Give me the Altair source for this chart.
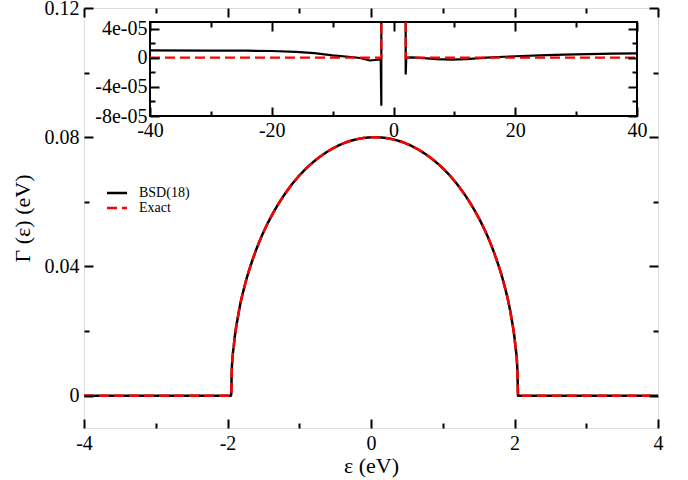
import altair as alt
import pandas as pd

FONT = "Liberation Serif"
W, H = 574, 420

# ---------------- main panel data ----------------
main_eps = [-4.0, -1.95, -1.94, -1.91, -1.85, -1.75, -1.65, -1.55, -1.45, -1.35,
            -1.15, -0.95, -0.75, -0.55, -0.35, -0.15, 0.05, 0.25, 0.45, 0.65,
            0.85, 1.05, 1.25, 1.45, 1.55, 1.65, 1.75, 1.85, 1.95, 2.01, 2.04, 2.05, 4.0]
bsd_main_gamma = [0.0, 0.0, 0.0080, 0.0159, 0.0250, 0.0349, 0.0421, 0.0480, 0.0529, 0.0571,
                  0.0640, 0.0693, 0.0733, 0.0763, 0.0784, 0.0796, 0.0800, 0.0796, 0.0784, 0.0763,
                  0.0733, 0.0693, 0.0640, 0.0571, 0.0529, 0.0480, 0.0421, 0.0349, 0.0250, 0.0159,
                  0.0080, 0.0, 0.0]
exact_main_gamma = [0.0, 0.0, 0.0080, 0.0159, 0.0250, 0.0349, 0.0421, 0.0480, 0.0529, 0.0571,
                    0.0640, 0.0693, 0.0733, 0.0763, 0.0784, 0.0796, 0.0800, 0.0796, 0.0784, 0.0763,
                    0.0733, 0.0693, 0.0640, 0.0571, 0.0529, 0.0480, 0.0421, 0.0349, 0.0250, 0.0159,
                    0.0080, 0.0, 0.0]

# ---------------- inset data ----------------
bsd_inset_left_eps = [-40, -30, -24, -20, -16, -13, -10, -7, -5.5, -3.9, -2.1, -2.0, -2.0]
bsd_inset_left_gamma = [1.0e-05, 0.98e-05, 0.96e-05, 0.92e-05, 0.80e-05, 0.62e-05, 0.33e-05,
                        0.10e-05, -0.04e-05, -0.38e-05, -0.25e-05, -6.6e-05, 0.08]
bsd_inset_right_eps = [2.0, 2.0, 2.1, 3, 5, 7, 9.6, 12, 15.3, 20, 24, 28, 32, 36, 40]
bsd_inset_right_gamma = [0.08, -2.3e-05, 0.02e-05, 0.05e-05, -0.05e-05, -0.20e-05, -0.27e-05,
                         -0.20e-05, 0.0, 0.20e-05, 0.33e-05, 0.42e-05, 0.50e-05, 0.56e-05, 0.60e-05]
exact_inset_left_eps = [-40, -2.0, -2.0]
exact_inset_left_gamma = [0.0, 0.0, 0.08]
exact_inset_right_eps = [2.0, 2.0, 40]
exact_inset_right_gamma = [0.08, 0.0, 0.0]

# ---------------- axes / ticks ----------------
series_names = ["BSD(18)", "Exact"]
main_x_domain = [-4, 4]
main_y_domain = [-0.01, 0.12]
main_x_major = [-4, -2, 0, 2, 4]
main_x_minor = [-3, -1, 1, 3]
main_y_major = [0, 0.04, 0.08, 0.12]
main_y_minor = [0.02, 0.06, 0.10]

inset_x_domain = [-40, 40]
inset_y_domain = [-8e-05, 4.9e-05]
inset_x_major = [-40, -20, 0, 20, 40]
inset_x_minor = [-30, -10, 10, 30]
inset_y_major = [-8e-05, -4e-05, 0, 4e-05]
inset_y_minor = [-6e-05, -2e-05, 2e-05]

# inset placement inside the plot area (pixels)
INS_L, INS_R, INS_T, INS_B = 66, 553, 14, 108

# ---------------- data frames ----------------
n = len(main_eps)
main_df = pd.DataFrame({
    "eps": main_eps * 2,
    "gamma": bsd_main_gamma + exact_main_gamma,
    "series": [series_names[0]] * n + [series_names[1]] * n,
})

rows = []
def add(series, seg, xs, ys):
    for i, (a, b) in enumerate(zip(xs, ys)):
        rows.append({"eps": a, "gamma": b, "series": series, "seg": seg, "idx": i})
add("BSD(18)", "L", bsd_inset_left_eps, bsd_inset_left_gamma)
add("BSD(18)", "R", bsd_inset_right_eps, bsd_inset_right_gamma)
add("Exact", "L", exact_inset_left_eps, exact_inset_left_gamma)
add("Exact", "R", exact_inset_right_eps, exact_inset_right_gamma)
inset_df = pd.DataFrame(rows)

rect_df = pd.DataFrame({"x0": [inset_x_domain[0]], "x1": [inset_x_domain[1]],
                        "y0": [inset_y_domain[0]], "y1": [inset_y_domain[1]]})

# ---------------- scales ----------------
x_main = alt.Scale(domain=main_x_domain, nice=False, zero=False)
y_main = alt.Scale(domain=main_y_domain, nice=False, zero=False)
x_ins = alt.Scale(domain=inset_x_domain, range=[INS_L, INS_R], nice=False, zero=False, clamp=True)
y_ins = alt.Scale(domain=inset_y_domain, range=[INS_B, INS_T], nice=False, zero=False, clamp=True)

color_scale = alt.Scale(domain=series_names, range=["black", "red"])
dash_scale = alt.Scale(domain=series_names, range=[[1, 0], [10, 5]])
leg = alt.Legend(orient="none", legendX=26, legendY=178, title=None,
                 symbolType="M-2,0H2", symbolSize=100, symbolStrokeWidth=2.5,
                 labelFont=FONT, labelFontSize=14, labelColor="black",
                 labelOffset=15, rowPadding=1, padding=0)

EXPR_INT = "(datum.value < 0 ? '-' : '') + format(abs(datum.value), 'd')"
EXPR_MAIN_Y = "datum.value == 0 ? '0' : format(datum.value, '.2f')"
EXPR_INS_Y = ("datum.value == 0 ? '0' : (datum.value < 0 ? '-' : '') + "
              "replace(format(abs(datum.value), '.0e'), 'e-', 'e-0')")


def tick_axis(orient, offset, values, size):
    return alt.Axis(orient=orient, offset=offset, values=values, tickSize=size,
                    tickWidth=2, tickColor="black", labels=False, domain=False,
                    grid=False, title=None, zindex=1)


def label_axis(orient, offset, values, expr, pad, **kw):
    return alt.Axis(orient=orient, offset=offset, values=values, ticks=False,
                    domain=False, grid=False, labelExpr=expr, labelFont=FONT,
                    labelFontSize=20, labelColor="black", labelPadding=pad,
                    labelFlush=False, labelOverlap=False, zindex=1, **kw)


TITLE_KW = dict(titleFont=FONT, titleFontSize=22, titleFontWeight="normal",
                titleColor="black", titleAlign="center", titleBaseline="middle")

# ---------------- main panel ----------------
m_bsd = alt.Chart(main_df).transform_filter(alt.datum.series == "BSD(18)").mark_line(
    strokeWidth=2.5, interpolate="monotone").encode(
    x=alt.X("eps:Q", scale=x_main,
            axis=label_axis("bottom", 0, main_x_major, EXPR_INT, 5,
                            title="ε (eV)", titleX=287, titleY=37, **TITLE_KW)),
    y=alt.Y("gamma:Q", scale=y_main,
            axis=label_axis("left", 0, main_y_major, EXPR_MAIN_Y, 5,
                            title="Γ (ε) (eV)", titleX=-62, titleY=210,
                            titleAngle=270, **TITLE_KW)),
    color=alt.Color("series:N", scale=color_scale, legend=leg),
    strokeDash=alt.StrokeDash("series:N", scale=dash_scale, legend=leg),
)
m_exact = alt.Chart(main_df).transform_filter(alt.datum.series == "Exact").mark_line(
    strokeWidth=2.5, interpolate="monotone").encode(
    x=alt.X("eps:Q", scale=x_main, axis=tick_axis("top", -H, main_x_major, 9)),
    y=alt.Y("gamma:Q", scale=y_main, axis=tick_axis("right", -W, main_y_major, 9)),
    color=alt.Color("series:N", scale=color_scale, legend=leg),
    strokeDash=alt.StrokeDash("series:N", scale=dash_scale, legend=leg),
)


def ghost(df, xs, ys, xa, ya):
    return alt.Chart(df).mark_point(opacity=0).encode(
        x=alt.X("eps:Q", scale=xs, axis=xa), y=alt.Y("gamma:Q", scale=ys, axis=ya))


m_t2 = ghost(main_df, x_main, y_main, tick_axis("top", -H, main_x_minor, 5),
             tick_axis("right", -W, main_y_minor, 5))
m_t3 = ghost(main_df, x_main, y_main, tick_axis("bottom", -H, main_x_major, 9),
             tick_axis("left", -W, main_y_major, 9))
m_t4 = ghost(main_df, x_main, y_main, tick_axis("bottom", -H, main_x_minor, 5),
             tick_axis("left", -W, main_y_minor, 5))

main = alt.layer(m_bsd, m_exact, m_t2, m_t3, m_t4).resolve_axis(x="independent", y="independent")

# ---------------- inset ----------------
i_rect = alt.Chart(rect_df).mark_rect(fill="white", stroke="black", strokeWidth=2).encode(
    x=alt.X("x0:Q", scale=x_ins,
            axis=label_axis("bottom", INS_B - H, inset_x_major, EXPR_INT, 4, title=None)),
    x2="x1:Q",
    y=alt.Y("y0:Q", scale=y_ins,
            axis=label_axis("left", -INS_L, inset_y_major, EXPR_INS_Y, 3, title=None)),
    y2="y1:Q",
)
i_bsd = alt.Chart(inset_df).transform_filter(alt.datum.series == "BSD(18)").mark_line(
    color="black", strokeWidth=2.2).encode(
    x=alt.X("eps:Q", scale=x_ins, axis=tick_axis("top", -INS_B, inset_x_major, 9)),
    y=alt.Y("gamma:Q", scale=y_ins, axis=tick_axis("right", INS_L - W, inset_y_major, 9)),
    detail="seg:N", order="idx:Q",
)
i_exact = alt.Chart(inset_df).transform_filter(alt.datum.series == "Exact").mark_line(
    color="red", strokeWidth=2.2, strokeDash=[10, 5]).encode(
    x=alt.X("eps:Q", scale=x_ins, axis=tick_axis("top", -INS_B, inset_x_minor, 5)),
    y=alt.Y("gamma:Q", scale=y_ins, axis=tick_axis("right", INS_L - W, inset_y_minor, 5)),
    detail="seg:N", order="idx:Q",
)
i_t3 = ghost(inset_df, x_ins, y_ins, tick_axis("bottom", INS_T - H, inset_x_major, 9),
             tick_axis("left", -INS_R, inset_y_major, 9))
i_t4 = ghost(inset_df, x_ins, y_ins, tick_axis("bottom", INS_T - H, inset_x_minor, 5),
             tick_axis("left", -INS_R, inset_y_minor, 5))

inset = alt.layer(i_rect, i_bsd, i_exact, i_t3, i_t4).resolve_axis(x="independent", y="independent")

chart = alt.layer(main, inset).resolve_scale(
    x="independent", y="independent").resolve_axis(
    x="independent", y="independent").properties(
    width=W, height=H, autosize="none",
    padding={"left": 84, "top": 8, "right": 30, "bottom": 52},
).configure_view(stroke="black", strokeWidth=2).configure(background="white")

chart.save("out.html", embed_options={"renderer": "svg", "actions": False})
